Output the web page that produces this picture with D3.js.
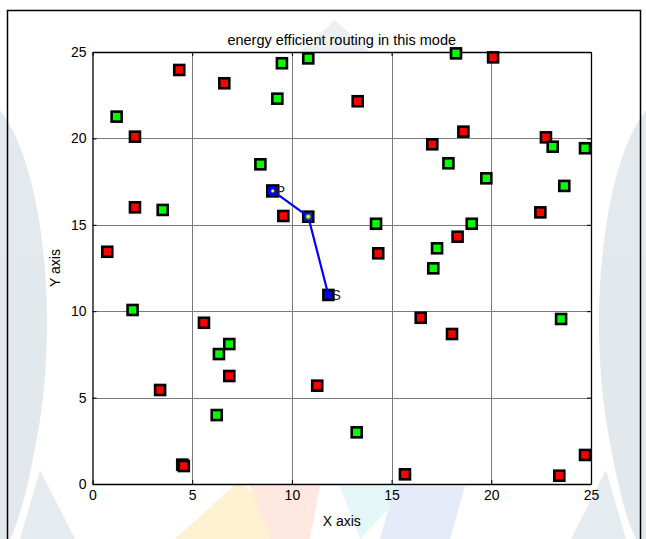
<!DOCTYPE html>
<html>
<head>
<meta charset="utf-8">
<script src="https://cdn.jsdelivr.net/npm/d3@7/dist/d3.min.js"></script>
<style>
  html, body { margin: 0; padding: 0; background: #fff; }
  svg { display: block; font-family: "Liberation Sans", Arial, sans-serif; }
</style>
</head>
<body>
<svg id="chart" width="646" height="539"></svg>
<script>
// Sensor nodes that are not on the route (red) and candidate relays (green)
const redX   = [4.35, 6.61, 2.13, 13.30, 18.60, 17.04, 22.74, 2.13, 9.57, 22.46, 0.74, 18.31, 14.33,
                16.46, 18.03, 5.59, 6.86, 3.39, 11.27, 4.50, 4.58, 15.67, 23.41, 24.70, 20.09];
const redY   = [23.96, 23.19, 20.10, 22.15, 20.39, 19.66, 20.06, 16.01, 15.51, 15.72, 13.44, 14.31, 13.35,
                9.62, 8.68, 9.33, 6.25, 5.44, 5.69, 1.12, 1.04, 0.56, 0.48, 1.68, 24.69];
const greenX = [9.50, 10.82, 9.27, 1.21, 18.23, 8.42, 3.52, 17.85, 19.75, 23.08, 24.70, 23.66, 14.22,
                19.02, 17.28, 17.09, 23.50, 2.01, 6.86, 6.34, 6.23, 13.25];
const greenY = [24.35, 24.63, 22.30, 21.26, 24.92, 18.50, 15.86, 18.56, 17.69, 19.52, 19.43, 17.25, 15.06,
                15.06, 13.64, 12.48, 9.55, 10.07, 8.10, 7.52, 3.99, 2.99];

// Selected route: P -> relay -> S
const routeX = [9.04, 10.82, 11.83];
const routeY = [16.96, 15.47, 10.94];
const routeLabels = ["P", "", "S"];

const ticks = [0, 5, 10, 15, 20, 25];
const title = "energy efficient routing in this mode";
const xLabel = "X axis";
const yLabel = "Y axis";

const svg = d3.select("#chart");

// faint background emblem
const bg = svg.append("g").attr("opacity", 0.5);
bg.append("path").attr("fill", "#c9d3dd")
  .attr("d", "M0,110 C40,160 58,300 40,420 C30,480 20,520 10,539 L0,539 Z");
bg.append("path").attr("fill", "#c9d3dd")
  .attr("d", "M646,110 C606,160 588,300 606,420 C616,480 626,520 636,539 L646,539 Z");
bg.append("path").attr("fill", "#cfd8e2")
  .attr("d", "M40,470 L75,539 L20,539 Z");
bg.append("path").attr("fill", "#cfd8e2")
  .attr("d", "M606,470 L571,539 L626,539 Z");
bg.append("path").attr("fill", "#d9e0e8")
  .attr("d", "M300,52 L335,20 L370,52 Z");
bg.append("path").attr("fill", "#ffe7a8")
  .attr("d", "M175,539 L240,480 L300,539 Z");
bg.append("path").attr("fill", "#ffd2c2")
  .attr("d", "M250,486 L320,486 L310,539 L270,539 Z");
bg.append("path").attr("fill", "#c9f1f4")
  .attr("d", "M340,486 L410,486 L360,539 Z");
bg.append("path").attr("fill", "#cbd7f2")
  .attr("d", "M395,486 L465,486 L450,539 L380,539 Z");

// outer frame
svg.append("path").attr("fill", "none").attr("stroke", "#000").attr("stroke-width", 1.5)
  .attr("d", "M7.5,545 L7.5,10.5 L640.5,10.5 L640.5,545");

const x = d3.scaleLinear().domain([0, 25]).range([92.5, 591]);
const y = d3.scaleLinear().domain([0, 25]).range([484, 52]);

// plot background
svg.append("rect")
  .attr("x", x(0)).attr("y", y(25))
  .attr("width", x(25) - x(0)).attr("height", y(0) - y(25))
  .attr("fill", "#fff");

// grid
const grid = svg.append("g").attr("stroke", "#7a7a7a").attr("stroke-width", 1);
grid.selectAll("line.gx").data(ticks.slice(1, -1)).join("line")
  .attr("x1", d => Math.round(x(d)) + 0.5).attr("x2", d => Math.round(x(d)) + 0.5)
  .attr("y1", y(25)).attr("y2", y(0));
grid.selectAll("line.gy").data(ticks.slice(1, -1)).join("line")
  .attr("y1", d => Math.round(y(d)) + 0.5).attr("y2", d => Math.round(y(d)) + 0.5)
  .attr("x1", x(0)).attr("x2", x(25));

// axes (ticks inward, on all four sides)
const fmt = d3.format("d");
const axB = svg.append("g").attr("transform", `translate(0,${y(0)})`)
  .call(d3.axisBottom(x).tickValues(ticks).tickFormat(fmt).tickSizeInner(-4).tickSizeOuter(0).tickPadding(9));
const axL = svg.append("g").attr("transform", `translate(${x(0)},0)`)
  .call(d3.axisLeft(y).tickValues(ticks).tickFormat(fmt).tickSizeInner(-4).tickSizeOuter(0).tickPadding(6));
const axT = svg.append("g").attr("transform", `translate(0,${y(25)})`)
  .call(d3.axisTop(x).tickValues(ticks).tickFormat("").tickSizeInner(-4).tickSizeOuter(0));
const axR = svg.append("g").attr("transform", `translate(${x(25)},0)`)
  .call(d3.axisRight(y).tickValues(ticks).tickFormat("").tickSizeInner(-4).tickSizeOuter(0));
[axB, axL, axT, axR].forEach(a => {
  a.select(".domain").attr("stroke", "#000").attr("stroke-width", 1.3);
  a.selectAll(".tick line").attr("stroke", "#000");
  a.selectAll(".tick text").attr("fill", "#000")
    .style("font-family", "'Liberation Sans', Arial, sans-serif").style("font-size", "14px");
});
axB.selectAll(".tick text").attr("dy", "0.71em").attr("y", 6);

// title and axis labels
svg.append("text").attr("x", (x(0) + x(25)) / 2).attr("y", 45)
  .attr("text-anchor", "middle").attr("font-size", 14.5).attr("fill", "#000").text(title);
svg.append("text").attr("x", (x(0) + x(25)) / 2).attr("y", 526)
  .attr("text-anchor", "middle").attr("font-size", 14).attr("fill", "#000").text(xLabel);
svg.append("text").attr("transform", `translate(60,${(y(0) + y(25)) / 2}) rotate(-90)`)
  .attr("text-anchor", "middle").attr("font-size", 14).attr("fill", "#000").text(yLabel);

// square node markers
const S = 10;
function squares(xs, ys, fill) {
  svg.append("g").selectAll("rect").data(xs.map((v, i) => [v, ys[i]])).join("rect")
    .attr("x", d => x(d[0]) - S / 2).attr("y", d => y(d[1]) - S / 2)
    .attr("width", S).attr("height", S)
    .attr("fill", fill).attr("stroke", "#000").attr("stroke-width", 2.6);
}
squares(redX, redY, "#ff0000");
squares(greenX, greenY, "#00ff00");

// route
const pts = routeX.map((v, i) => [v, routeY[i]]);
// end nodes and relay squares
svg.append("rect").attr("x", x(pts[0][0]) - 6).attr("y", y(pts[0][1]) - 6)
  .attr("width", 12).attr("height", 12).attr("fill", "#000").attr("stroke", "#000").attr("stroke-width", 1.5);
svg.append("rect").attr("x", x(pts[1][0]) - S / 2).attr("y", y(pts[1][1]) - S / 2)
  .attr("width", S).attr("height", S).attr("fill", "#1fa046").attr("stroke", "#000").attr("stroke-width", 2.6);
svg.append("rect").attr("x", x(pts[2][0]) - S / 2).attr("y", y(pts[2][1]) - S / 2)
  .attr("width", S).attr("height", S).attr("fill", "#0000ff").attr("stroke", "#000").attr("stroke-width", 2.6);

svg.append("path").datum(pts)
  .attr("fill", "none").attr("stroke", "#0000ff").attr("stroke-width", 2.2)
  .attr("d", d3.line().x(d => x(d[0])).y(d => y(d[1])));

// circle markers on P and the relay
[0, 1].forEach(i => {
  svg.append("circle").attr("cx", x(pts[i][0])).attr("cy", y(pts[i][1])).attr("r", i === 0 ? 4.5 : 3.8)
    .attr("fill", i === 0 ? "#0000ff" : "#2a8a4a").attr("stroke", "#0000ff").attr("stroke-width", 1.5);
  svg.append("circle").attr("cx", x(pts[i][0])).attr("cy", y(pts[i][1])).attr("r", 1.6)
    .attr("fill", "#ffff00");
});

// endpoint labels
svg.append("g").selectAll("text").data(pts.map((p, i) => [p, routeLabels[i]]).filter(d => d[1])).join("text")
  .attr("x", d => x(d[0][0]) + 3).attr("y", d => y(d[0][1]) + 5)
  .attr("font-size", 14).attr("fill", "#222").text(d => d[1]);
</script>
</body>
</html>
